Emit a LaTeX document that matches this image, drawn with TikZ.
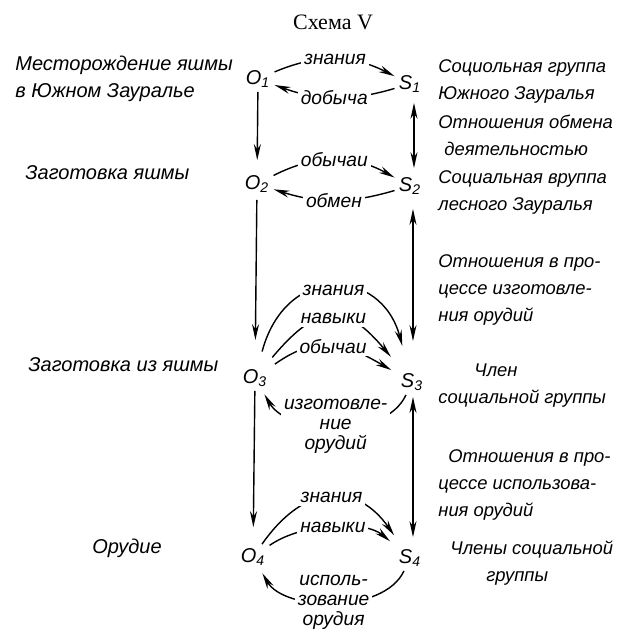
\documentclass[tikz,border=0pt]{standalone}
\usepackage{fontspec}
\setmainfont{Liberation Sans}
\newfontfamily\titlefont{Liberation Serif}
\usetikzlibrary{positioning, arrows.meta}

\begin{document}
\begin{tikzpicture}[x=0.5pt, y=0.5pt,
        every node/.style={font=\fontsize{10}{13.5}\selectfont\itshape},
        obj/.style={inner sep=2pt},
        arr/.style={line width=0.7pt, -{Stealth[length=8pt,width=3.5pt]}},
        dbl/.style={line width=0.7pt, {Stealth[length=8pt,width=3.5pt]}-{Stealth[length=8pt,width=3.5pt]}},
        lbl/.style={fill=white, inner sep=1.5pt, align=center, font=\fontsize{9.6}{9.9}\selectfont\itshape},
        txt/.style={anchor=west, align=left, inner sep=0pt},
        rtxt/.style={txt, font=\fontsize{9.2}{13.5}\selectfont\itshape}]
    \useasboundingbox (0,0) rectangle (623,-634);

    \node[font=\titlefont\fontsize{11}{13}\selectfont] (title) at (333,-22) {Схема V};

    % objects and subjects
    \node[obj] (o1) at (258,-79) {O\textsubscript{1}};
    \node[obj] (s1) at (410,-84) {S\textsubscript{1}};
    \node[obj] (o2) at (257,-184) {O\textsubscript{2}};
    \node[obj] (s2) at (410,-186) {S\textsubscript{2}};
    \node[obj] (o3) at (255,-378) {O\textsubscript{3}};
    \node[obj] (s3) at (412,-382) {S\textsubscript{3}};
    \node[obj] (o4) at (253,-557) {O\textsubscript{4}};
    \node[obj] (s4) at (410,-558) {S\textsubscript{4}};

    % left column
    \node[txt] (m1) at (15,-79) {Месторождение яшмы\\в Южном Зауралье};
    \node[txt] (m2) at (25,-173) {Заготовка яшмы};
    \node[txt] (m3) at (28,-365) {Заготовка из яшмы};
    \node[txt] (m4) at (92,-548) {Орудие};

    % right column
    \node[rtxt] (g1) at (438,-81) {Социольная группа\\Южного Зауралья};
    \node[rtxt] (r1) at (438,-135) {Отношения обмена\\\hspace*{3pt}деятельностью};
    \node[rtxt] (g2) at (438,-192) {Социальная вруппа\\лесного Зауралья};
    \node[rtxt] (r2) at (438,-290) {Отношения в про-\\цессе изготовле-\\ния орудий};
    \node[rtxt] (g3) at (438,-386) {\hspace*{18pt}Член\\социальной группы};
    \node[rtxt] (r3) at (438,-485) {\hspace*{5pt}Отношения в про-\\цессе использова-\\ния орудий};
    \node[rtxt] (g4) at (450,-563) {Члены социальной\\\hspace*{18pt}группы};

    % vertical links
    \draw[arr, shorten >=5.5pt] (o1) -- (o2);
    \draw[arr, shorten <=1.5pt, shorten >=12.5pt] (o2) -- (o3);
    \draw[arr, shorten >=8.5pt] (o3) -- (o4);
    \draw[dbl, shorten <=3pt, shorten >=2.5pt] ([xshift=2pt]s1.south) -- ([xshift=2pt]s2.north);
    \draw[dbl, shorten <=5pt, shorten >=14pt] ([xshift=1.5pt]s2.south) -- ([xshift=0.5pt]s3.north);
    \draw[dbl, shorten <=1pt, shorten >=4pt] ([xshift=0.5pt]s3.south) -- ([xshift=1.5pt]s4.north);

    % exchanges
    \draw[arr] (o1) to[bend left=25] node[lbl] (a1) {знания} (s1);
    \draw[arr] (s1) to[bend left=18] node[lbl] (b1) {добыча} (o1);
    \draw[arr] (o2) to[bend left=28] node[lbl] (a2) {обычаи} (s2);
    \draw[arr] (s2) to[bend left=17] node[lbl] (b2) {обмен} (o2);

    \draw[arr, shorten <=7pt, shorten >=12pt] (o3) to[out=75, in=105, looseness=1.8] node[lbl] (a3) {знания} (s3);
    \draw[arr, shorten <=5pt, shorten >=8pt] (o3) to[out=50, in=130, looseness=1.6] node[lbl] (c3) {навыки} (s3);
    \draw[arr, shorten <=2pt, shorten >=3pt] (o3) to[out=35, in=150, looseness=1.2] node[lbl] (d3) {обычаи} (s3);
    \draw[arr, shorten >=2pt] (s3) to[out=-115, in=-60, looseness=0.9] node[lbl] (b3) {изготовле-\\ние\\орудий} (o3);

    \draw[arr, shorten >=6pt] (o4) to[out=55, in=125, looseness=1.4] node[lbl] (a4) {знания} (s4);
    \draw[arr, shorten >=3pt] (o4) to[out=35, in=140, looseness=0.8] node[lbl] (c4) {навыки} (s4);
    \draw[arr, shorten >=2pt] (s4) to[out=-115, in=-60, looseness=0.85] node[lbl] (b4) {исполь-\\зование\\орудия} (o4);
\end{tikzpicture}
\end{document}
